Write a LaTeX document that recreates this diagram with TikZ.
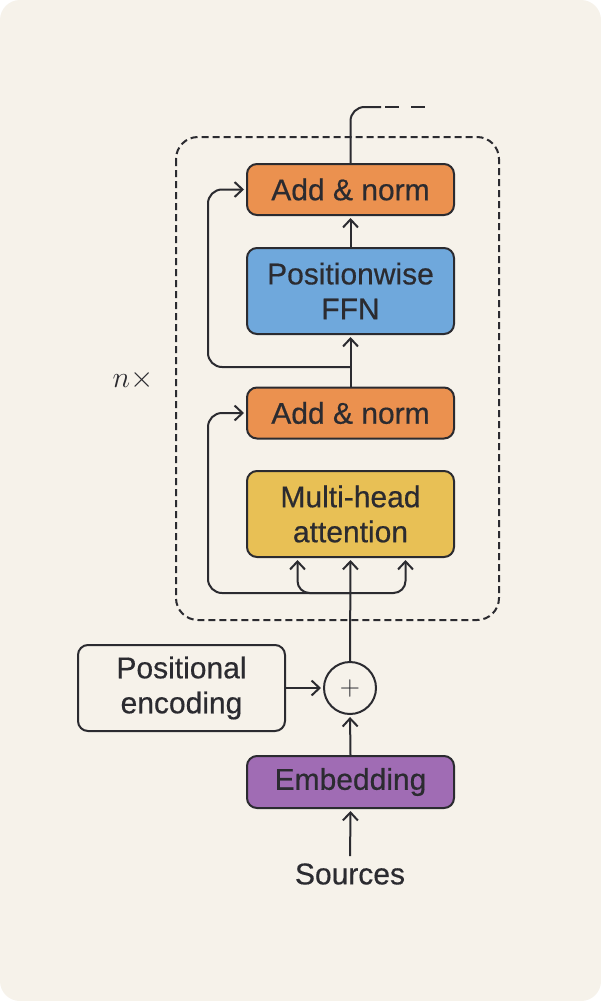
\documentclass[tikz,border=0pt]{standalone}
\usepackage{fix-cm}
\usepackage{fontspec}
\setmainfont{Liberation Sans}
\newfontfamily\labelfont{Liberation Sans}[FakeBold=0.5]
\usetikzlibrary{arrows.meta}
\definecolor{bgc}{HTML}{F6F2EA}
\definecolor{ink}{HTML}{2B2B30}
\definecolor{orangec}{HTML}{EB914F}
\definecolor{bluec}{HTML}{6FA8DC}
\definecolor{yellowc}{HTML}{E8C055}
\definecolor{purplec}{HTML}{A06CB4}
\tikzset{
  box/.style={draw=ink, line width=2pt, rounded corners=10pt, minimum width=207pt, inner sep=0pt, align=center, text=ink, font=\labelfont\fontsize{30}{35}\selectfont},
  conn/.style={draw=ink, line width=2pt},
  arr/.style={conn, shorten >=2pt, -{Straight Barb[length=8pt, width=15pt, line width=2pt]}},
}
\begin{document}
\begin{tikzpicture}[x=1pt, y=-1pt]
\useasboundingbox (0,0) rectangle (601,1001);
\fill[white] (0,0) rectangle (601,1001);
\fill[bgc, rounded corners=20pt] (0,0) rectangle (601,1001);
% dashed repeat box
\draw[ink, line width=2pt, dash pattern=on 7pt off 4pt, rounded corners=22pt] (176,137) rectangle (499,620);
% nodes
\node[box, fill=orangec, minimum height=51pt] (an2) at (350.5,189.5) {Add \& norm};
\node[box, fill=bluec, minimum height=86pt] (ffn) at (350.5,291) {Positionwise\\FFN};
\node[box, fill=orangec, minimum height=51pt] (an1) at (350.5,413) {Add \& norm};
\node[box, fill=yellowc, minimum height=86pt] (mha) at (350.5,514) {Multi-head\\attention};
\node[box, fill=bgc, minimum height=86pt] (pe) at (181.5,688) {Positional\\encoding};
\node[draw=ink, line width=2pt, circle, minimum size=52pt, inner sep=0pt, text=ink, font=\fontsize{28}{30}\selectfont] (plus) at (350,688) {$+$};
\node[box, fill=purplec, minimum height=52pt] (emb) at (350.5,782) {Embedding};
\node[text=ink, font=\labelfont\fontsize{30}{35}\selectfont, inner sep=0pt] (src) at (350,874) {Sources};
\node[text=ink, font=\fontsize{30}{34}\selectfont] (nx) at (133,380) {$n\times$};
% connectors
\draw[arr, shorten <=7pt] (src.north) -- (emb.south);
\draw[arr] (emb.north) -- (plus.south);
\draw[arr] (pe.east) -- (plus.west);
\draw[arr] (plus.north) -- (mha.south);
\coordinate (j1) at (350.5,593);
\draw[arr, rounded corners=14pt] (j1) -- (208,593) |- (an1.west);
\draw[arr, rounded corners=12pt] (j1) -| ([xshift=-53pt]mha.south);
\draw[arr, rounded corners=12pt] (j1) -| ([xshift=55pt]mha.south);
\draw[arr] (an1.north) -- (ffn.south);
\coordinate (j2) at (350.5,367);
\draw[arr, rounded corners=14pt] (j2) -- (208,367) |- (an2.west);
\draw[arr] (ffn.north) -- (an2.south);
\coordinate (o1) at (381,107);
\coordinate (o2) at (430,107);
\draw[conn, rounded corners=14pt] (an2.north) |- (o1);
\draw[conn, dash pattern=on 0pt off 4pt on 14pt off 8pt] (o1) -- (o2);
\end{tikzpicture}
\end{document}
